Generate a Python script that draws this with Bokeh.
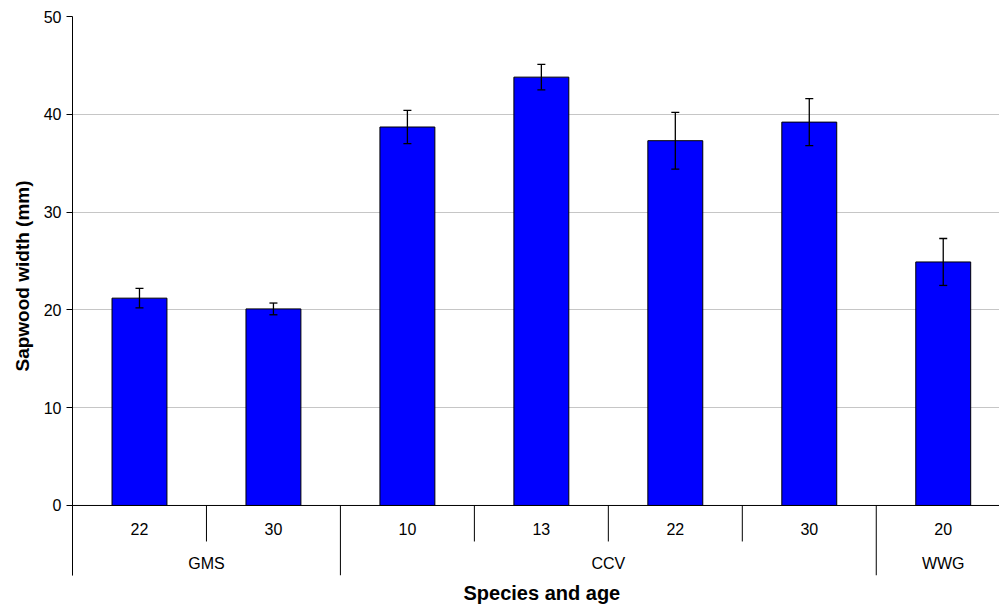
import numpy as np
from bokeh.plotting import figure
from bokeh.models import (ColumnDataSource, Range1d, FixedTicker, Span, Whisker,
                          TeeHead, Title)
from bokeh.core.properties import value
from bokeh.embed import file_html
from bokeh.resources import INLINE

# ---- data ----
groups = ["GMS", "GMS", "CCV", "CCV", "CCV", "CCV", "WWG"]
ages = ["22", "30", "10", "13", "22", "30", "20"]
sapwood = [21.2, 20.1, 38.7, 43.8, 37.3, 39.2, 24.9]
errors = [1.0, 0.6, 1.7, 1.3, 2.9, 2.4, 2.4]
y_ticks = [0, 10, 20, 30, 40, 50]

FONT = "Liberation Sans"
n = len(ages)
xc = np.arange(n) + 0.5
vals = np.array(sapwood)
errs = np.array(errors)

src = ColumnDataSource(dict(x=xc, top=vals, upper=vals + errs, lower=vals - errs, age=ages))

# group spans
group_names, group_start, group_end = [], [], []
for i, g in enumerate(groups):
    if group_names and group_names[-1] == g:
        group_end[-1] = i + 1
    else:
        group_names.append(g); group_start.append(i); group_end.append(i + 1)
gsrc = ColumnDataSource(dict(x=[(s + e) / 2 for s, e in zip(group_start, group_end)], name=group_names))

y_bottom = -7.16
p = figure(width=999, height=608, output_backend="svg", toolbar_location=None,
           x_range=Range1d(0, 6.92), y_range=Range1d(y_bottom, 50),
           x_axis_location=None, min_border_left=72, min_border_right=0,
           min_border_top=16, min_border_bottom=33)
p.outline_line_color = None
p.xgrid.visible = False
p.ygrid.ticker = FixedTicker(ticks=y_ticks[1:])
p.ygrid.grid_line_color = "#8c8c8c"
p.ygrid.grid_line_dash = "1 1"

ax = p.yaxis[0]
ax.ticker = FixedTicker(ticks=y_ticks)
ax.major_tick_out = 6
ax.major_tick_in = 0
ax.minor_tick_line_color = None
ax.axis_line_color = "black"
ax.major_tick_line_color = "black"
ax.major_label_text_font = FONT
ax.major_label_text_font_size = "16px"
ax.major_label_text_color = "black"
ax.major_label_standoff = 5

p.add_layout(Title(text="Sapwood width (mm)", align="left", text_font=FONT,
                   text_font_size="19px", text_font_style="bold", text_color="black",
                   standoff=16, offset=204), "left")

p.add_layout(Title(text="Species and age", align="left", text_font=FONT,
                   text_font_size="20px", text_font_style="bold", text_color="black",
                   standoff=8, offset=391), "below")

# x axis base line
p.add_layout(Span(location=0, dimension="width", line_color="black", line_width=1))

p.vbar(x="x", top="top", bottom=0, width=0.41, source=src,
       fill_color="#0000FF", line_color="black", line_width=1)

wh = Whisker(base="x", upper="upper", lower="lower", source=src, level="annotation",
             line_color="black", line_width=1.3,
             upper_head=TeeHead(size=8, line_color="black", line_width=1.3),
             lower_head=TeeHead(size=8, line_color="black", line_width=1.3))
p.add_layout(wh)

# category separators
group_bounds = set(group_start) | set(group_end)
sep_x = list(range(n + 1))
sep_y1 = [y_bottom if b in group_bounds else -36 / 9.78 for b in sep_x]
p.segment(x0=sep_x, y0=[0] * len(sep_x), x1=sep_x, y1=sep_y1, line_color="black", line_width=1)

p.text(x="x", y=0, text="age", source=src, y_offset=24, text_align="center",
       text_baseline="middle", text_font=value(FONT), text_font_size="16px", text_color="black")
p.text(x="x", y=0, text="name", source=gsrc, y_offset=58, text_align="center",
       text_baseline="middle", text_font=value(FONT), text_font_size="16px", text_color="black")

open("out.html", "w").write(file_html(p, INLINE))
